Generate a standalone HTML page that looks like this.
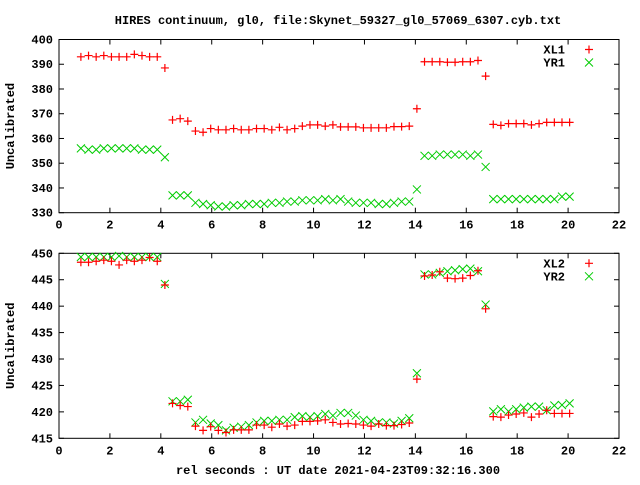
<!DOCTYPE html>
<html><head><meta charset="utf-8"><style>
body{margin:0;background:#fff}
svg text{font-family:"Liberation Mono","DejaVu Sans Mono",monospace;font-size:12px;font-weight:bold;fill:#000}
</style></head><body>
<svg id="c" width="640" height="480" xmlns="http://www.w3.org/2000/svg"></svg>
<script>
const xs=[0.86,1.16,1.46,1.76,2.06,2.36,2.66,2.96,3.26,3.56,3.86,4.16,4.46,4.76,5.06,5.36,5.66,5.96,6.26,6.56,6.86,7.16,7.46,7.76,8.06,8.36,8.66,8.96,9.26,9.56,9.86,10.16,10.46,10.76,11.06,11.36,11.66,11.96,12.26,12.56,12.86,13.16,13.46,13.76,14.06,14.36,14.66,14.96,15.26,15.56,15.86,16.16,16.46,16.76,17.06,17.36,17.66,17.96,18.26,18.56,18.86,19.16,19.46,19.76,20.06];
const xl1=[393,393.5,393,393.5,393,393,393,394,393.5,393,393,388.5,367.5,368,367,363,362.5,364,363.5,363.5,364,363.5,363.5,364,364,363.5,364.5,363.5,364,365,365.5,365.5,365,365.5,364.7,364.7,364.7,364.3,364.3,364.3,364.3,364.8,364.8,365,372,391,391,391,390.8,390.8,391,391,391.5,385.2,365.7,365.3,366,366,366,365.5,366,366.5,366.5,366.5,366.5];
const yr1=[356,355.5,355.5,356,356,356,356,356,355.5,355.5,355.5,352.4,337,337,337,334,333.5,333,332.5,332.5,333,333,333.5,333.5,333.5,334,334,334.5,334.5,335,335,335,335.5,335,335.5,334.5,334,334,334,333.5,333.5,334,334.5,334.5,339.4,353,353,353.5,353.5,353.5,353.5,353,353.5,348.5,335.5,335.5,335.5,335.5,335.5,335.5,335.5,335.5,335.5,336.5,336.5];
const xl2=[448.3,448.3,448.5,448.7,448.5,447.8,448.7,448.5,448.7,449.2,448.5,444,421.6,421.2,421,417.3,416.5,417.2,416.5,416.1,416.6,416.6,416.6,417.5,417.5,417.1,417.7,417.3,417.5,418.2,418.2,418.3,418.5,418,417.7,417.8,417.7,417.5,417.3,417.7,417.4,417.4,417.6,417.9,426.2,445.7,445.9,446.5,445.3,445.2,445.3,445.8,446.7,439.5,419.1,419,419.4,419.6,419.8,419,419.6,420.3,419.7,419.7,419.7];
const yr2=[449.3,449.3,449.3,449.3,449.3,449.5,449.3,449.3,449.3,449.3,449.3,444.2,422,422,422.3,418,418.5,417.8,417.5,416.5,417,417.2,417.5,418,418.3,418.3,418.5,418.5,419,419.2,419,419.2,419.6,419.3,419.8,419.8,419.3,418.5,418.3,418,418,417.8,418.3,418.8,427.3,446,446,446.3,446.6,446.8,447,447.1,446.6,440.3,420.1,420.5,420.1,420.5,420.8,421,421,420.3,421.2,421.3,421.6];
const xticks=[0,2,4,6,8,10,12,14,16,18,20,22];
const yticks1=[330,340,350,360,370,380,390,400];
const yticks2=[415,420,425,430,435,440,445,450];
const svg=document.getElementById('c');const NS='http://www.w3.org/2000/svg';
function mk(t,a,p,name){const e=document.createElementNS(NS,t);for(const k in a)e.setAttribute(k,a[k]);


(p||svg).appendChild(e);return e;}
const L=59,R=619;
const sx=v=>L+(v-0)/(22-0)*(R-L);
function panel(top,bot,ymin,ymax,yt,s1,s2,n1,n2,pname){
 const g=mk('g',{},svg,pname);
 const sy=v=>bot-(v-ymin)/(ymax-ymin)*(bot-top);
 mk('rect',{x:L,y:top,width:R-L,height:bot-top,fill:'none',stroke:'#000','stroke-width':1},g,'plot-frame');
 xticks.forEach(t=>{const x=sx(t);
  mk('line',{x1:x,y1:bot,x2:x,y2:bot-5,stroke:'#000'},g,'x-tick');
  mk('line',{x1:x,y1:top,x2:x,y2:top+5,stroke:'#000'},g,'x-tick-top');
  const tx=mk('text',{x:x,y:bot+16,'text-anchor':'middle'},g,'x-tick-label');tx.textContent=t;});
 yt.forEach(t=>{const y=sy(t);
  mk('line',{x1:L,y1:y,x2:L+5,y2:y,stroke:'#000'},g,'y-tick');
  mk('line',{x1:R,y1:y,x2:R-5,y2:y,stroke:'#000'},g,'y-tick-right');
  const tx=mk('text',{x:L-6,y:y+4,'text-anchor':'end'},g,'y-tick-label');tx.textContent=t;});
 const yl=mk('text',{x:14,y:(top+bot)/2,'text-anchor':'middle',transform:`rotate(-90 14 ${(top+bot)/2})`},g,'y-axis-title');yl.textContent='Uncalibrated';
 function plus(x,y,p,n){mk('path',{d:`M${x-4} ${y}H${x+4}M${x} ${y-4}V${y+4}`,stroke:'#f00','stroke-width':1.2,fill:'none'},p,n);}
 function cross(x,y,p,n){mk('path',{d:`M${x-4} ${y-4}L${x+4} ${y+4}M${x-4} ${y+4}L${x+4} ${y-4}`,stroke:'#0c0','stroke-width':1,fill:'none'},p,n);}
 const g2=mk('g',{},g,n2.toLowerCase()+'-series');
 s2.forEach((v,i)=>cross(sx(xs[i]),sy(v),g2,'point-'+n2.toLowerCase()));
 const g1=mk('g',{},g,n1.toLowerCase()+'-series');
 s1.forEach((v,i)=>plus(sx(xs[i]),sy(v),g1,'point-'+n1.toLowerCase()));
 const lg=mk('g',{},g,'legend');
 const t1=mk('text',{x:565,y:top+14,'text-anchor':'end'},lg,'legend-label');t1.textContent=n1;
 plus(589,top+10,lg,'legend-marker');
 const t2=mk('text',{x:565,y:top+27,'text-anchor':'end'},lg,'legend-label');t2.textContent=n2;
 cross(589,top+23,lg,'legend-marker');
}
panel(39.5,212.7,330,400,yticks1,xl1,yr1,'XL1','YR1','top-panel');
panel(253.3,438.3,415,450,yticks2,xl2,yr2,'XL2','YR2','bottom-panel');
const ti=mk('text',{x:338,y:24,'text-anchor':'middle'},svg,'chart-title');ti.textContent='HIRES continuum, gl0, file:Skynet_59327_gl0_57069_6307.cyb.txt';
const xt=mk('text',{x:338,y:474,'text-anchor':'middle'},svg,'x-axis-title');xt.textContent='rel seconds : UT date 2021-04-23T09:32:16.300';
</script>
</body></html>
